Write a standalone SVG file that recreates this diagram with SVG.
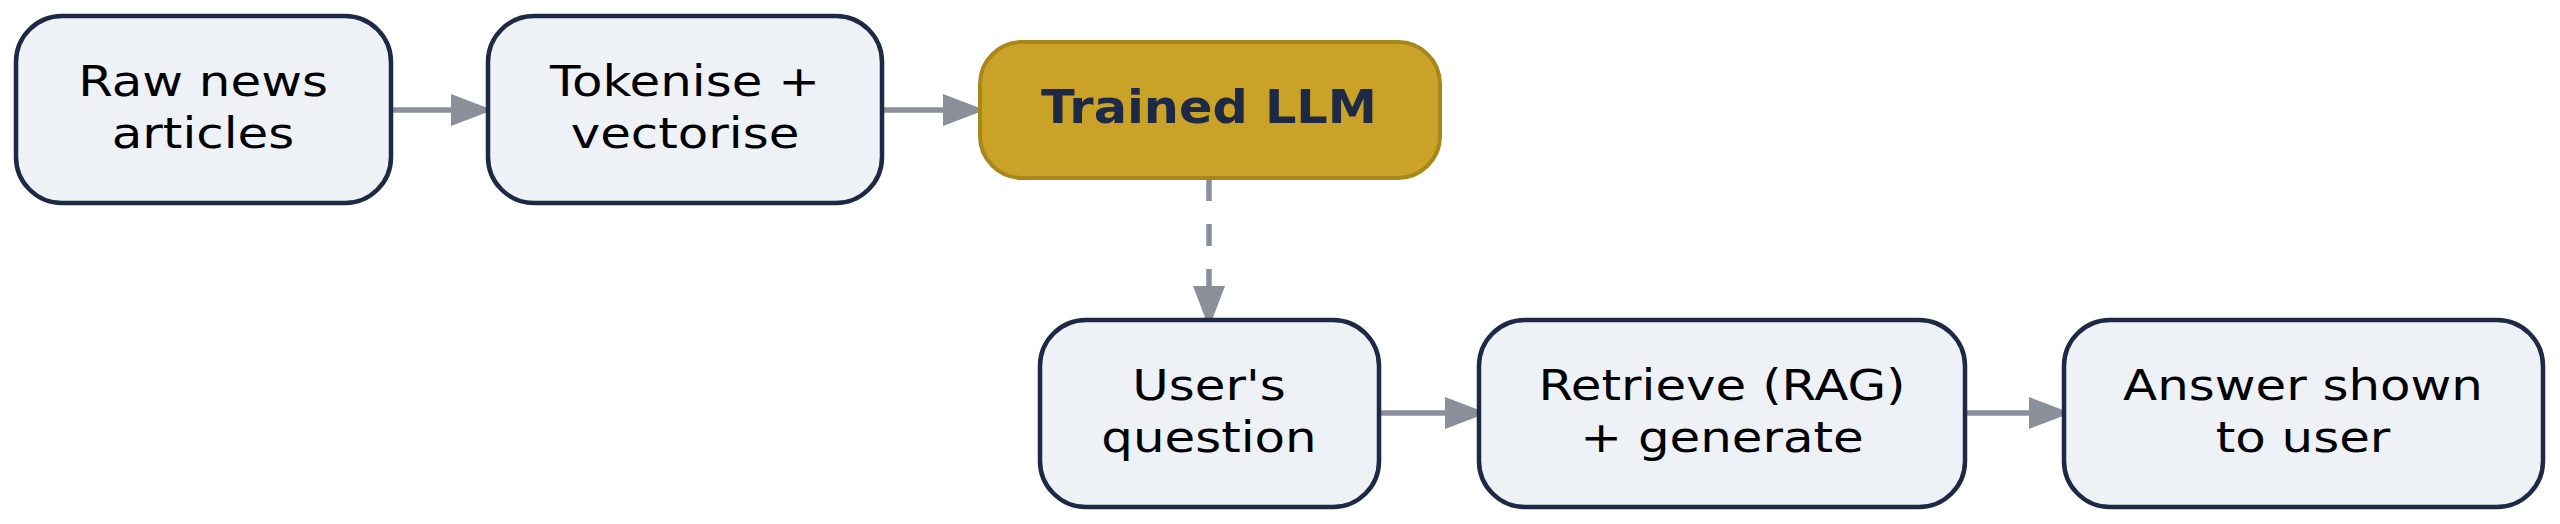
<svg xmlns="http://www.w3.org/2000/svg" width="2560" height="524" viewBox="0 0 2560 524">
<defs>
<style>
.node rect{fill:#eef2f7;stroke:#1e2a45;stroke-width:4.5}
.node text{font-family:"DejaVu Sans",Verdana,sans-serif;font-size:43px;fill:#000;text-anchor:middle}
#llm rect{fill:#c9a227;stroke:#a8861a;stroke-width:4}
#llm text{font-weight:bold;fill:#1e2a45;font-size:47px}
.edge{stroke:#8a8f9a;stroke-width:5.5;fill:none}
</style>
<marker id="ah" viewBox="0 0 42 32" refX="39" refY="16" markerWidth="42" markerHeight="32" markerUnits="userSpaceOnUse" orient="auto">
<path d="M0,0 L42,16 L0,32 Z" fill="#8a8f9a"/>
</marker>
</defs>
<rect width="2560" height="524" fill="#ffffff"/>
<g id="connectors">
<line class="edge" x1="392" y1="110" x2="490" y2="110" marker-end="url(#ah)"/>
<line class="edge" x1="883" y1="110" x2="982" y2="110" marker-end="url(#ah)"/>
<line class="edge" x1="1209" y1="179" x2="1209" y2="325" stroke-dasharray="22 23" marker-end="url(#ah)"/>
<line class="edge" x1="1380" y1="413" x2="1484" y2="413" marker-end="url(#ah)"/>
<line class="edge" x1="1966" y1="413" x2="2068" y2="413" marker-end="url(#ah)"/>
</g>
<g id="raw" class="node">
<rect x="16" y="16" width="375" height="187" rx="46"/>
<text transform="matrix(1.16 0 0 1 203 0)" x="0" y="96">Raw news<tspan x="0" dy="52">articles</tspan></text>
</g>
<g id="tokenise" class="node">
<rect x="488" y="16" width="394" height="187" rx="46"/>
<text transform="matrix(1.16 0 0 1 685 0)" x="0" y="96">Tokenise +<tspan x="0" dy="52">vectorise</tspan></text>
</g>
<g id="llm" class="node">
<rect x="980" y="42" width="460" height="136" rx="42"/>
<text transform="matrix(1.05 0 0 1 1209 0)" x="0" y="123">Trained LLM</text>
</g>
<g id="question" class="node">
<rect x="1040" y="320" width="339" height="187" rx="46"/>
<text transform="matrix(1.16 0 0 1 1209 0)" x="0" y="400">User's<tspan x="0" dy="52">question</tspan></text>
</g>
<g id="retrieve" class="node">
<rect x="1479" y="320" width="486" height="187" rx="46"/>
<text transform="matrix(1.16 0 0 1 1722 0)" x="0" y="400">Retrieve (RAG)<tspan x="0" dy="52">+ generate</tspan></text>
</g>
<g id="answer" class="node">
<rect x="2064" y="320" width="479" height="187" rx="46"/>
<text transform="matrix(1.16 0 0 1 2303 0)" x="0" y="400">Answer shown<tspan x="0" dy="52">to user</tspan></text>
</g>
</svg>
